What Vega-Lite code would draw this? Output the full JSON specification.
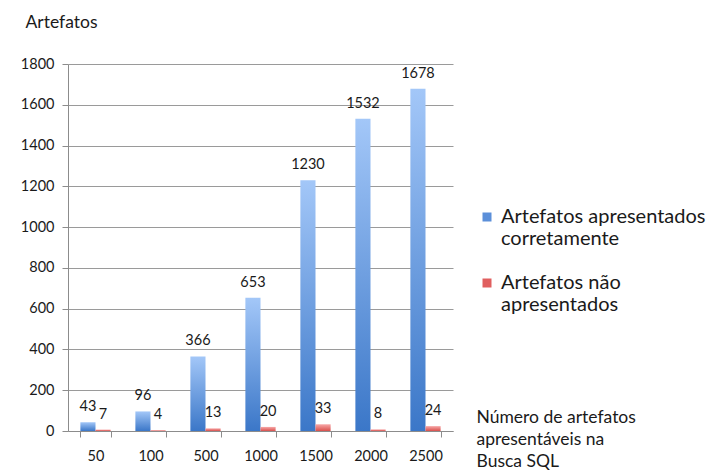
{
  "$schema": "https://vega.github.io/schema/vega-lite/v6.json",
  "width": 385,
  "height": 367,
  "autosize": {"type": "none"},
  "padding": {"left": 68, "top": 64, "right": 258, "bottom": 39},
  "background": "white",
  "config": {
    "view": {"stroke": null},
    "font": "Lato",
    "axis": {"labelFont": "Lato", "titleFont": "Lato", "labelColor": "#1a1a1a", "titleColor": "#1a1a1a"},
    "legend": {"labelFont": "Lato"}
  },
  "data": {
    "values": [
      {"n": "50", "s": "A", "v": 43},
      {"n": "50", "s": "B", "v": 7},
      {"n": "100", "s": "A", "v": 96},
      {"n": "100", "s": "B", "v": 4},
      {"n": "500", "s": "A", "v": 366},
      {"n": "500", "s": "B", "v": 13},
      {"n": "1000", "s": "A", "v": 653},
      {"n": "1000", "s": "B", "v": 20},
      {"n": "1500", "s": "A", "v": 1230},
      {"n": "1500", "s": "B", "v": 33},
      {"n": "2000", "s": "A", "v": 1532},
      {"n": "2000", "s": "B", "v": 8},
      {"n": "2500", "s": "A", "v": 1678},
      {"n": "2500", "s": "B", "v": 24}
    ]
  },
  "encoding": {
    "x": {
      "field": "n",
      "type": "nominal",
      "sort": ["50", "100", "500", "1000", "1500", "2000", "2500"],
      "scale": {"paddingInner": 0.45, "paddingOuter": 0.225},
      "axis": {
        "labelAngle": 0,
        "labelFontSize": 14.5,
        "labelPadding": 12,
        "tickBand": "extent",
        "tickSize": 6,
        "tickColor": "#8c8c8c",
        "domainColor": "#8c8c8c",
        "grid": false,
        "title": ["Número de artefatos", "apresentáveis na", "Busca SQL"],
        "titleFontSize": 17.5,
        "titleFontWeight": "normal",
        "titleAlign": "left",
        "titleBaseline": "top",
        "titleAngle": 0,
        "titleX": 408,
        "titleY": -23,
        "titleLineHeight": 22
      }
    },
    "xOffset": {"field": "s", "type": "nominal", "scale": {"domain": ["A", "B"], "paddingInner": 0, "paddingOuter": 0}},
    "y": {
      "field": "v",
      "type": "quantitative",
      "scale": {"domain": [0, 1800], "nice": false},
      "axis": {
        "values": [0, 200, 400, 600, 800, 1000, 1200, 1400, 1600, 1800],
        "format": "d",
        "labelFontSize": 14.5,
        "labelPadding": 8,
        "tickSize": 6,
        "tickColor": "#8c8c8c",
        "domainColor": "#8c8c8c",
        "gridColor": "#9a9a9a",
        "gridOpacity": 1,
        "title": "Artefatos",
        "titleFontSize": 17.5,
        "titleFontWeight": "normal",
        "titleAngle": 0,
        "titleAlign": "left",
        "titleBaseline": "middle",
        "titleX": -43,
        "titleY": -42
      }
    }
  },
  "layer": [
    {
      "transform": [{"filter": "datum.s == 'A'"}],
      "mark": {
        "type": "bar",
        "fill": {
          "gradient": "linear", "x1": 0, "y1": 0, "x2": 0, "y2": 1,
          "stops": [{"offset": 0, "color": "#a3c7f8"}, {"offset": 1, "color": "#3b77c8"}]
        }
      }
    },
    {
      "transform": [{"filter": "datum.s == 'B'"}],
      "mark": {
        "type": "bar",
        "fill": {
          "gradient": "linear", "x1": 0, "y1": 0, "x2": 0, "y2": 1,
          "stops": [{"offset": 0, "color": "#f7a8a8"}, {"offset": 1, "color": "#d9504d"}]
        }
      }
    },
    {
      "mark": {"type": "text", "baseline": "bottom", "dy": -8, "fontSize": 14.5, "color": "#1a1a1a"},
      "encoding": {"text": {"field": "v", "type": "quantitative"}}
    },
    {
      "mark": {"type": "point", "filled": true, "opacity": 0},
      "encoding": {
        "color": {
          "field": "s",
          "type": "nominal",
          "scale": {"domain": ["A", "B"], "range": ["#5b8fd9", "#e05f5f"]},
          "legend": {
            "title": null,
            "orient": "none",
            "padding": 0,
            "legendX": 409,
            "legendY": 143,
            "symbolType": "square",
            "symbolSize": 81,
            "symbolOpacity": 1,
            "symbolStrokeWidth": 0,
            "labelFontSize": 20,
            "labelColor": "#1a1a1a",
            "labelLimit": 300,
            "labelOffset": 4,
            "rowPadding": 24,
            "labelExpr": "datum.value == 'A' ? ['Artefatos apresentados', 'corretamente'] : ['Artefatos não', 'apresentados']"
          }
        }
      }
    }
  ]
}
